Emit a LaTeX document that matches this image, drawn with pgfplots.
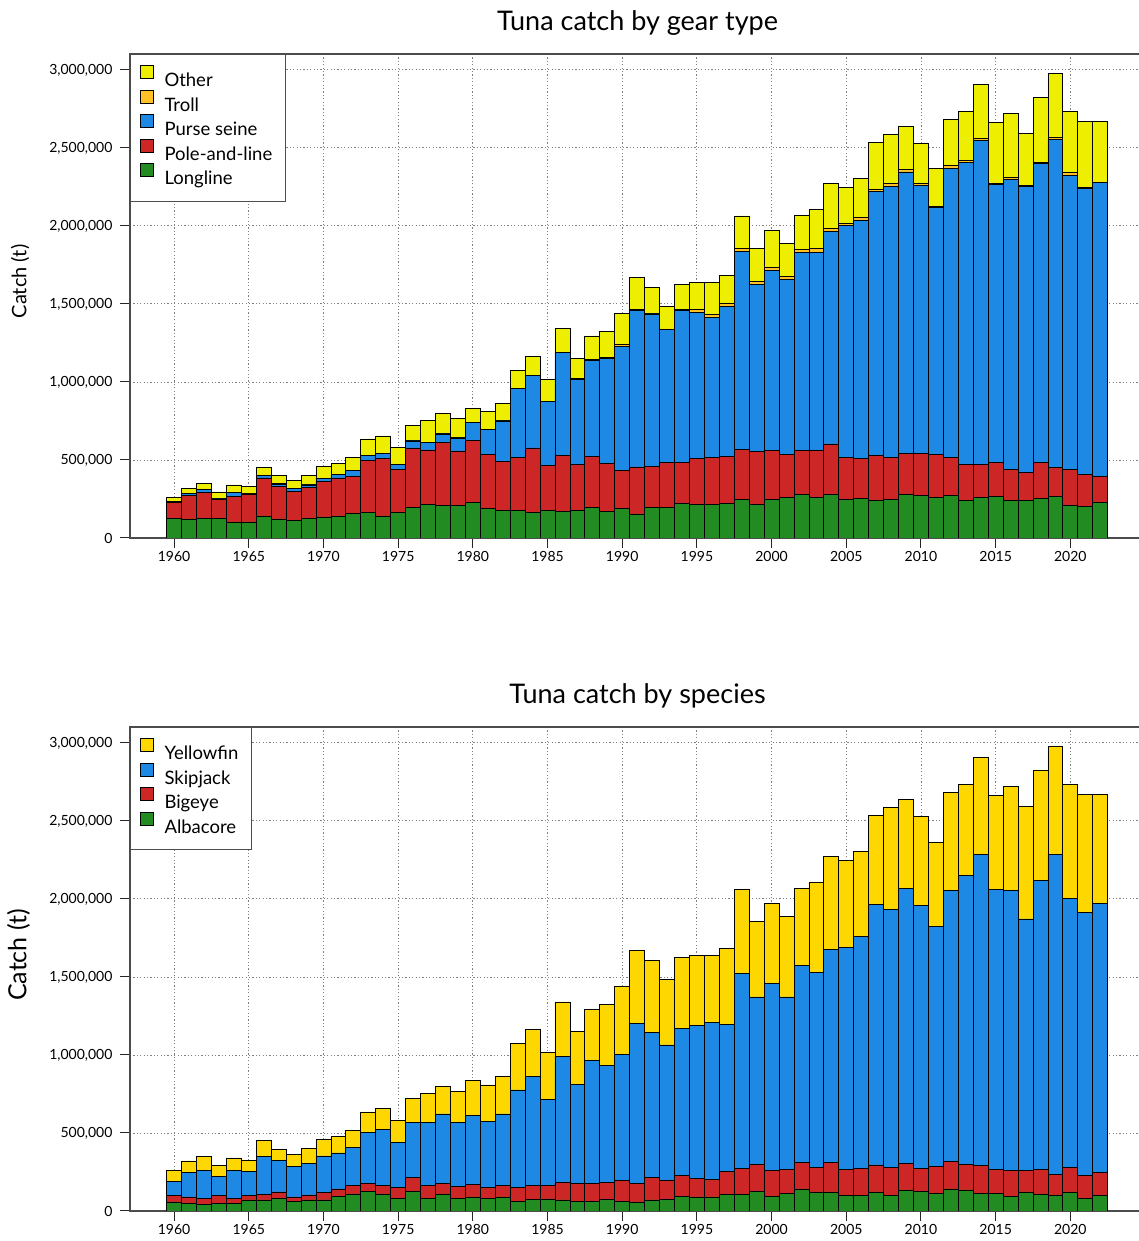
\documentclass[border=0pt]{standalone}
\usepackage{fontspec}
\setmainfont{Lato}
\usepackage{pgfplots}
\usepackage{pgfplotstable}
\pgfplotsset{compat=1.18}

\definecolor{cLong}{RGB}{34,139,34}
\definecolor{cPole}{RGB}{205,38,38}
\definecolor{cPurse}{RGB}{30,136,229}
\definecolor{cTroll}{RGB}{255,193,37}
\definecolor{cOther}{RGB}{238,238,0}
\definecolor{cYft}{RGB}{255,215,0}

% catch in thousand tonnes
\pgfplotstableread{
year L PL PS T O
1960 128 101 3 2 27
1961 122 151 13 2 32
1962 128 165 19 2 34
1963 124 122 4 3 42
1964 103 164 24 2 47
1965 103 179 4 2 41
1966 141 244 17 2 49
1967 122 209 15 2 52
1968 115 184 17 2 50
1969 124 201 15 2 58
1970 135 230 18 2 72
1971 141 244 21 2 69
1972 156 241 35 2 81
1973 162 336 30 2 105
1974 141 370 30 2 111
1975 162 278 30 2 111
1976 194 383 45 2 96
1977 216 348 49 2 139
1978 209 406 52 2 132
1979 209 349 83 2 124
1980 228 400 112 3 89
1981 190 346 159 3 112
1982 177 315 258 3 108
1983 175 344 438 3 111
1984 162 415 462 3 123
1985 175 291 408 3 140
1986 169 361 658 3 151
1987 175 297 545 3 130
1988 194 330 615 3 153
1989 169 310 673 3 166
1990 188 242 799 13 198
1991 154 301 1005 4 205
1992 194 265 977 4 163
1993 194 291 851 4 145
1994 222 263 975 4 160
1995 216 295 934 17 175
1996 216 301 896 19 205
1997 222 302 961 19 178
1998 248 320 1266 23 207
1999 216 340 1070 19 208
2000 248 314 1154 21 235
2001 261 275 1120 22 209
2002 279 283 1270 19 219
2003 261 301 1267 26 248
2004 278 325 1361 21 289
2005 248 269 1485 15 231
2006 254 257 1526 15 254
2007 241 289 1692 15 300
2008 248 269 1738 15 314
2009 278 265 1803 18 273
2010 274 269 1718 9 260
2011 261 275 1580 8 242
2012 274 243 1853 19 295
2013 241 231 1932 17 314
2014 261 211 2077 11 344
2015 267 218 1778 9 389
2016 241 199 1859 9 415
2017 241 178 1836 6 329
2018 254 231 1913 10 413
2019 267 186 2103 11 412
2020 207 233 1885 17 393
2021 201 205 1836 8 417
2022 227 166 1883 6 387
}\geartable

\pgfplotstableread{
year A B S Y
1960 58 40 90 73
1961 49 41 158 73
1962 43 38 180 87
1963 49 49 122 73
1964 49 32 180 79
1965 71 27 156 71
1966 71 34 245 101
1967 83 39 203 72
1968 64 26 196 79
1969 71 32 203 94
1970 71 47 235 104
1971 96 45 231 107
1972 109 53 244 109
1973 128 49 327 131
1974 109 53 362 132
1975 83 67 290 143
1976 128 88 352 152
1977 83 82 403 186
1978 109 68 445 177
1979 83 73 412 199
1980 90 79 446 221
1981 83 67 425 233
1982 90 72 460 239
1983 64 86 626 297
1984 75 90 700 298
1985 77 88 551 303
1986 71 113 808 348
1987 64 113 635 338
1988 64 113 789 327
1989 73 111 748 389
1990 64 130 810 436
1991 58 119 1026 468
1992 71 145 927 462
1993 75 122 867 421
1994 96 133 940 455
1995 90 119 979 447
1996 90 113 1004 428
1997 107 147 943 485
1998 107 167 1250 538
1999 128 173 1071 483
2000 96 165 1199 512
2001 115 152 1105 515
2002 141 171 1263 495
2003 122 158 1250 574
2004 122 190 1363 599
2005 100 167 1421 560
2006 100 174 1487 545
2007 122 173 1671 571
2008 100 180 1652 652
2009 135 171 1763 568
2010 126 148 1686 570
2011 115 171 1539 539
2012 141 177 1738 628
2013 135 164 1851 585
2014 115 178 1994 618
2015 115 152 1795 600
2016 94 167 1795 667
2017 122 139 1611 718
2018 109 158 1849 705
2019 100 135 2052 692
2020 122 158 1725 730
2021 81 148 1684 755
2022 100 148 1724 697
}\sptable

\pgfplotsset{
  tuna/.style={
    scale only axis, width=1015pt, height=484pt,
    xmin=1957.05, xmax=2025, ymin=0, ymax=3102,
    ybar stacked, bar width=1,
    xtick={1960,1965,...,2020},
    ytick={0,500,...,3000},
    yticklabels={0,{500,000},{1,000,000},{1,500,000},{2,000,000},{2,500,000},{3,000,000}},
    xtick pos=bottom, ytick pos=left,
    tick align=outside, major tick length=10pt,
    tick style={black!85, line width=1pt},
    /pgf/number format/assume math mode=true,
    x tick label style={/pgf/number format/1000 sep={}},
    y tick label style={xshift=-4pt},
    tick label style={font=\fontsize{14}{16}\selectfont},
    grid=major,
    grid style={black!50, line width=0.9pt, dash pattern=on 1.2pt off 2.2pt},
    axis line style={black!70, line width=1.2pt},
    every axis plot/.append style={draw=black, line width=0.8pt},
    legend cell align=left,
    legend image code/.code={%
      \path[draw=none, fill=none] (0pt,0pt) rectangle (21pt,14pt);
      \draw[#1, line width=0.8pt, overlay] (0pt,2pt) rectangle (13pt,15pt);},
    legend style={at={(0,1)}, anchor=north west, draw=black!70, line width=1pt,
      fill=white, font=\fontsize{18.5}{22}\selectfont, row sep=0pt,
      inner xsep=10pt, inner ysep=12pt, nodes={inner sep=3pt}},
    title style={font=\fontsize{27}{30}\selectfont, at={(axis description cs:0.5,1)}, anchor=base, yshift=17pt},
  }
}

\begin{document}
\begin{tikzpicture}[x=1pt,y=1pt]
\useasboundingbox (0,0) rectangle (1139,1241);

\begin{axis}[tuna, at={(130pt,703pt)}, anchor=south west,
  title={Tuna catch by gear type},
  ylabel={Catch (t)},
  ylabel style={font=\fontsize{20}{22}\selectfont, at={(axis description cs:-0.1084,0.53)}, anchor=center},
  reverse legend]
\addplot[fill=cLong] table[x=year,y=L]{\geartable};
\addplot[fill=cPole] table[x=year,y=PL]{\geartable};
\addplot[fill=cPurse] table[x=year,y=PS]{\geartable};
\addplot[fill=cTroll] table[x=year,y=T]{\geartable};
\addplot[fill=cOther] table[x=year,y=O]{\geartable};
\legend{Longline,Pole-and-line,Purse seine,Troll,Other}
\end{axis}

\begin{axis}[tuna, at={(130pt,30pt)}, anchor=south west,
  title={Tuna catch by species},
  ylabel={Catch (t)},
  ylabel style={font=\fontsize{25}{27}\selectfont, at={(axis description cs:-0.1099,0.529)}, anchor=center},
  reverse legend]
\addplot[fill=cLong] table[x=year,y=A]{\sptable};
\addplot[fill=cPole] table[x=year,y=B]{\sptable};
\addplot[fill=cPurse] table[x=year,y=S]{\sptable};
\addplot[fill=cYft] table[x=year,y=Y]{\sptable};
\legend{Albacore,Bigeye,Skipjack,Yellowfin}
\end{axis}
\end{tikzpicture}
\end{document}
